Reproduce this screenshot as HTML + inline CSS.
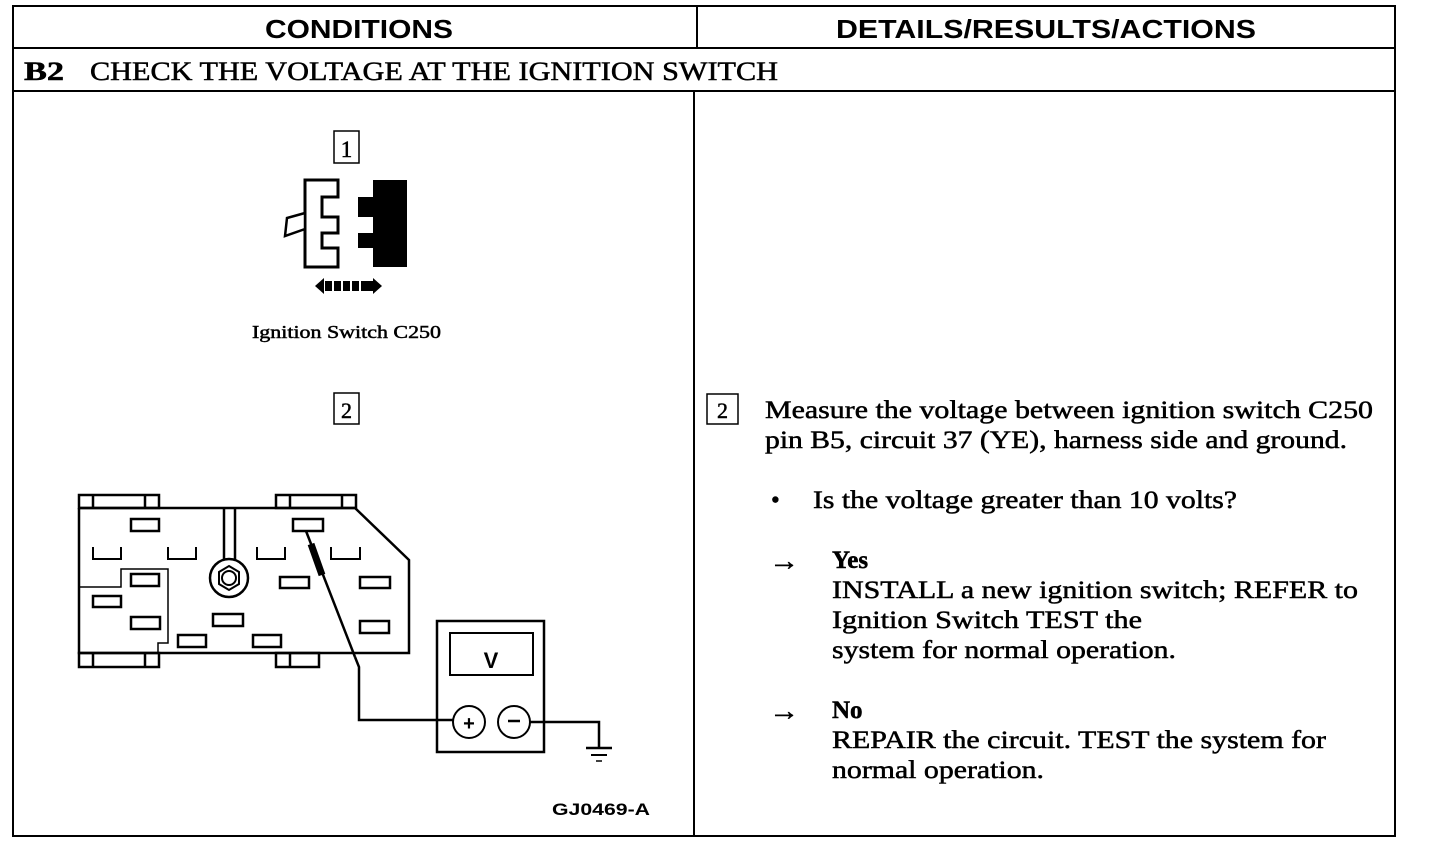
<!DOCTYPE html>
<html><head><meta charset="utf-8"><style>
html,body{margin:0;padding:0;background:#fff;}
svg{display:block;}
.s{font-family:"Liberation Serif",serif;fill:#000;}
.h{font-family:"Liberation Sans",sans-serif;font-weight:bold;fill:#000;}
.t{stroke:#000;stroke-width:0.5;}
</style></head><body>
<svg width="1440" height="844" viewBox="0 0 1440 844" xmlns="http://www.w3.org/2000/svg">
<g fill="none" stroke="#000" stroke-width="2">
<rect x="13" y="6" width="1382" height="830"/>
<line x1="13" y1="48" x2="1395" y2="48"/>
<line x1="13" y1="91" x2="1395" y2="91"/>
<line x1="697" y1="6" x2="697" y2="48"/>
<line x1="694" y1="91" x2="694" y2="836"/>
</g>
<text class="h" x="359" y="38" font-size="26" text-anchor="middle" textLength="188" lengthAdjust="spacingAndGlyphs">CONDITIONS</text>
<text class="h" x="1046" y="38" font-size="26" text-anchor="middle" textLength="420" lengthAdjust="spacingAndGlyphs">DETAILS/RESULTS/ACTIONS</text>
<text class="s t" x="24" y="80" font-size="26" font-weight="bold" textLength="40" lengthAdjust="spacingAndGlyphs">B2</text>
<text class="s t" x="90" y="80" font-size="26" textLength="688" lengthAdjust="spacingAndGlyphs">CHECK THE VOLTAGE AT THE IGNITION SWITCH</text>

<!-- box 1 -->
<rect x="334" y="131" width="25" height="32" fill="none" stroke="#000" stroke-width="1.5"/>
<text class="s t" x="346.5" y="157" font-size="23" text-anchor="middle">1</text>
<polygon points="305,180 338,180 338,197 322,197 322,217 338,217 338,233 322,233 322,248 338,248 338,267 305,267" fill="#fff" stroke="#000" stroke-width="3"/>
<polygon points="305,213 287,218 285,236 305,229" fill="#fff" stroke="#000" stroke-width="2.5"/>
<polygon points="373,180 407,180 407,267 373,267 373,248 358,248 358,233 373,233 373,217 358,217 358,197 373,197" fill="#000"/>
<polygon points="315,286 324,278 324,294" fill="#000"/>
<polygon points="382,286 373,278 373,294" fill="#000"/>
<g fill="#000"><rect x="325" y="281" width="7" height="10"/><rect x="334" y="281" width="7" height="10"/><rect x="343" y="281" width="7" height="10"/><rect x="352" y="281" width="7" height="10"/><rect x="361" y="281" width="7" height="10"/><rect x="366" y="281" width="7" height="10"/></g>
<text class="s t" x="252" y="338" font-size="18" textLength="189" lengthAdjust="spacingAndGlyphs">Ignition Switch C250</text>

<!-- box 2 left -->
<rect x="334" y="393" width="25" height="31" fill="none" stroke="#000" stroke-width="1.5"/>
<text class="s t" x="346.5" y="418" font-size="22" text-anchor="middle">2</text>

<!-- switch body -->
<g fill="none" stroke="#000" stroke-width="2.5">
<rect x="79" y="495" width="80" height="13"/><line x1="93" y1="495" x2="93" y2="508"/><line x1="145" y1="495" x2="145" y2="508"/>
<rect x="276" y="495" width="80" height="13"/><line x1="290" y1="495" x2="290" y2="508"/><line x1="342" y1="495" x2="342" y2="508"/>
<rect x="79" y="653" width="80" height="14"/><line x1="93" y1="653" x2="93" y2="667"/><line x1="145" y1="653" x2="145" y2="667"/>
<rect x="276" y="653" width="43" height="14"/><line x1="290" y1="653" x2="290" y2="667"/>
<polyline points="79,508 355,508 409,560 409,653 79,653 79,508"/>
<line x1="224" y1="508" x2="224" y2="560"/><line x1="235" y1="508" x2="235" y2="560"/>
<circle cx="229" cy="578" r="19"/>
<polygon points="229,566 239,572 239,584 229,590 219,584 219,572" stroke-width="2"/>
<circle cx="229" cy="578" r="7" stroke-width="2"/>
<polyline points="79,587 121,587 121,569 168,569 168,643 158,643 158,653" stroke-width="1.5"/>
</g>
<g fill="#fff" stroke="#000" stroke-width="2.5">
<rect x="131" y="519" width="28" height="12"/><rect x="293" y="519" width="30" height="12"/>
<rect x="280" y="577" width="29" height="11"/><rect x="360" y="577" width="30" height="11"/>
<rect x="131" y="574" width="28" height="12"/><rect x="93" y="596" width="28" height="11"/>
<rect x="131" y="617" width="29" height="12"/><rect x="213" y="614" width="30" height="12"/>
<rect x="360" y="621" width="29" height="12"/><rect x="178" y="635" width="28" height="12"/>
<rect x="253" y="635" width="28" height="12"/>
</g>
<g fill="none" stroke="#000" stroke-width="2">
<polyline points="93,547 93,559 121,559 121,547"/><polyline points="168,547 168,559 196,559 196,547"/>
<polyline points="257,547 257,559 285,559 285,547"/><polyline points="331,547 331,559 360,559 360,547"/>
</g>
<!-- probe -->
<line x1="306" y1="531" x2="355" y2="657" stroke="#000" stroke-width="2.5"/>
<line x1="311" y1="544" x2="322" y2="575" stroke="#000" stroke-width="7"/>
<polyline points="355,657 359,667 359,720 453,720" fill="none" stroke="#000" stroke-width="2.5"/>
<!-- meter -->
<rect x="437" y="621" width="107" height="131" fill="none" stroke="#000" stroke-width="2.5"/>
<rect x="450" y="633" width="83" height="42" fill="none" stroke="#000" stroke-width="2"/>
<text class="h" x="491" y="668" font-size="22" text-anchor="middle">V</text>
<circle cx="469" cy="722" r="16" fill="#fff" stroke="#000" stroke-width="2"/>
<text class="h" x="469" y="730" font-size="20" text-anchor="middle">+</text>
<circle cx="514" cy="722" r="16" fill="#fff" stroke="#000" stroke-width="2"/>
<line x1="508" y1="721" x2="520" y2="721" stroke="#000" stroke-width="2.5"/>
<polyline points="530,722 599,722 599,748" fill="none" stroke="#000" stroke-width="2.5"/>
<line x1="586" y1="748" x2="612" y2="748" stroke="#000" stroke-width="2.5"/>
<line x1="591" y1="755" x2="607" y2="755" stroke="#000" stroke-width="2"/>
<line x1="596" y1="761" x2="602" y2="761" stroke="#000" stroke-width="1.5"/>
<text class="h" x="552" y="815" font-size="17" textLength="98" lengthAdjust="spacingAndGlyphs">GJ0469-A</text>

<!-- right column -->
<rect x="707" y="394" width="31" height="30" fill="none" stroke="#000" stroke-width="1.5"/>
<text class="s t" x="722.5" y="418" font-size="22" text-anchor="middle">2</text>
<g class="s t" font-size="25">
<text x="765" y="418" textLength="608" lengthAdjust="spacingAndGlyphs">Measure the voltage between ignition switch C250</text>
<text x="765" y="448" textLength="582" lengthAdjust="spacingAndGlyphs">pin B5, circuit 37 (YE), harness side and ground.</text>
<text x="771" y="508">•</text>
<text x="813" y="508" textLength="424" lengthAdjust="spacingAndGlyphs">Is the voltage greater than 10 volts?</text>
<text x="769" y="570" font-size="28" textLength="30" lengthAdjust="spacingAndGlyphs">→</text>
<text x="832" y="568" font-weight="bold">Yes</text>
<text x="832" y="598" textLength="526" lengthAdjust="spacingAndGlyphs">INSTALL a new ignition switch; REFER to</text>
<text x="832" y="628" textLength="310" lengthAdjust="spacingAndGlyphs">Ignition Switch TEST the</text>
<text x="832" y="658" textLength="344" lengthAdjust="spacingAndGlyphs">system for normal operation.</text>
<text x="769" y="720" font-size="28" textLength="30" lengthAdjust="spacingAndGlyphs">→</text>
<text x="832" y="718" font-weight="bold">No</text>
<text x="832" y="748" textLength="494" lengthAdjust="spacingAndGlyphs">REPAIR the circuit. TEST the system for</text>
<text x="832" y="778" textLength="212" lengthAdjust="spacingAndGlyphs">normal operation.</text>
</g>
</svg>
</body></html>
